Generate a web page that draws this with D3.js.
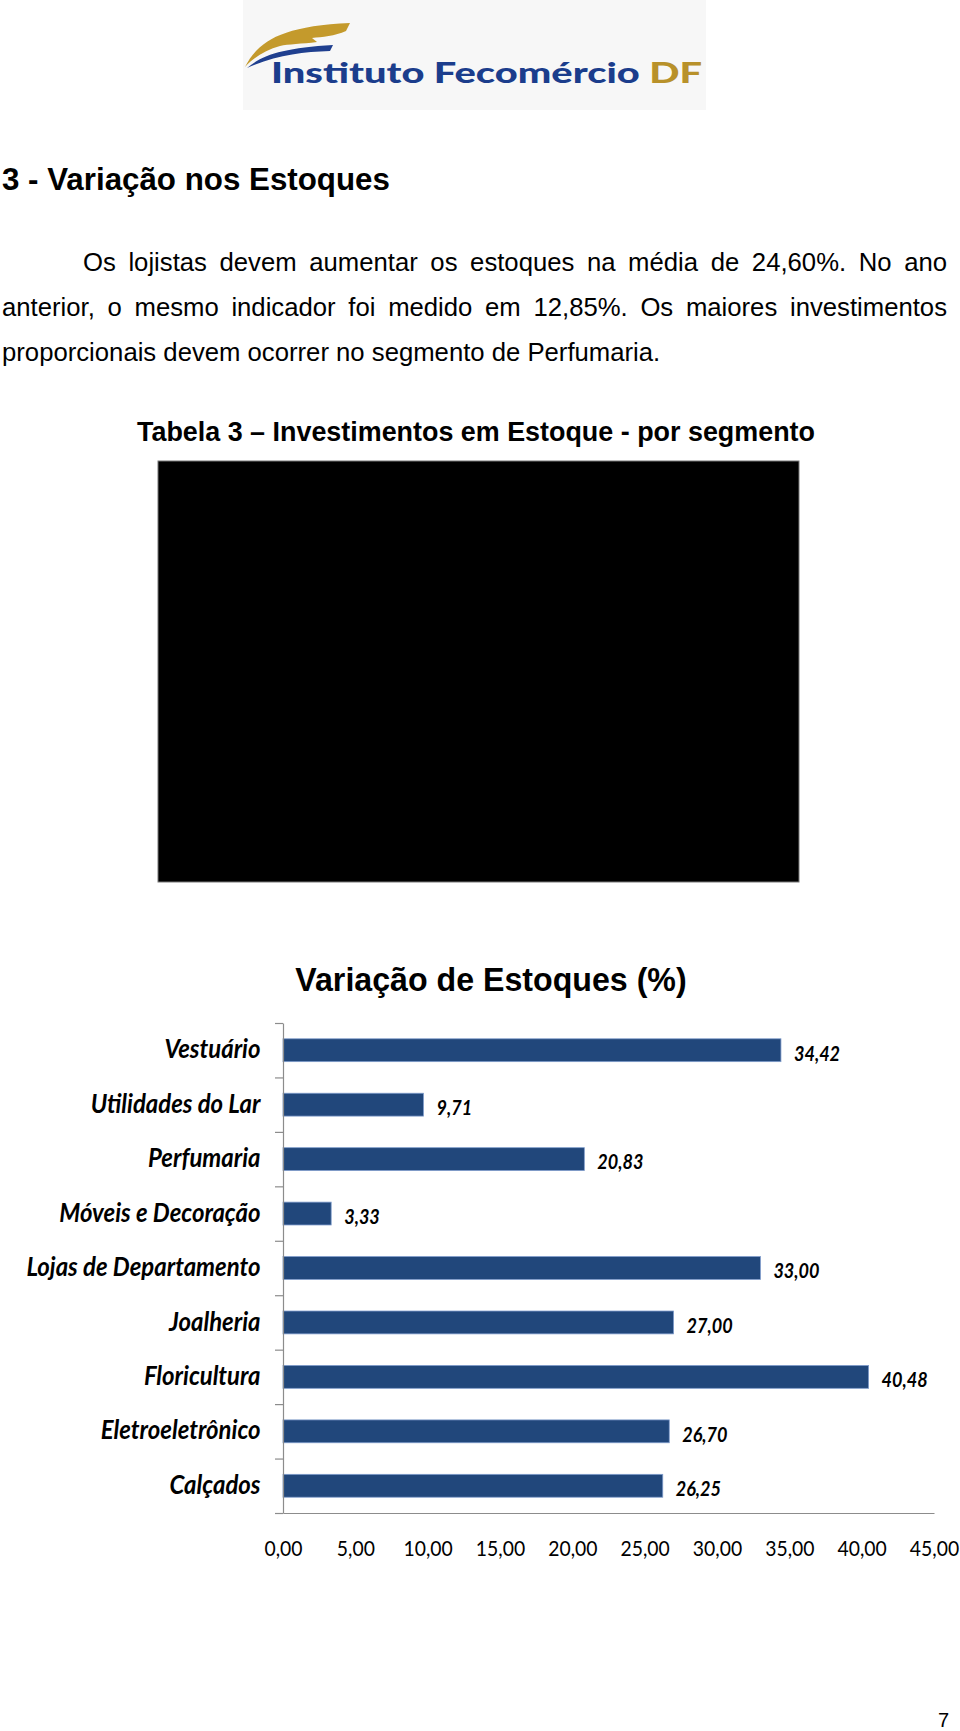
<!DOCTYPE html>
<html>
<head>
<meta charset="utf-8">
<script src="https://cdn.jsdelivr.net/npm/d3@7"></script>
<style>
  html, body { margin: 0; padding: 0; background: #ffffff; }
  svg { display: block; }
</style>
</head>
<body>
<svg id="page" width="960" height="1731"></svg>
<script>
// ---------------- data ----------------
const categories = ["Vestuário", "Utilidades do Lar", "Perfumaria", "Móveis e Decoração",
  "Lojas de Departamento", "Joalheria", "Floricultura", "Eletroeletrônico", "Calçados"];
const values = [34.42, 9.71, 20.83, 3.33, 33.00, 27.00, 40.48, 26.70, 26.25];
const xTicks = [0, 5, 10, 15, 20, 25, 30, 35, 40, 45];
const chartTitle = "Variação de Estoques (%)";
const heading = "3 - Variação nos Estoques";
const bodyLines = [
  "Os lojistas devem aumentar os estoques na média de 24,60%. No ano",
  "anterior, o mesmo indicador foi medido em 12,85%. Os maiores investimentos",
  "proporcionais devem ocorrer no segmento de Perfumaria."
];
const tableCaption = "Tabela 3 – Investimentos em Estoque - por segmento";
const logoMain = "Instituto Fecomércio";
const logoDF = "DF";
const pageNumber = "7";

// ---------------- helpers ----------------
const ptBR = d3.formatLocale({decimal: ",", thousands: ".", grouping: [3], currency: ["R$", ""]});
const fmt = ptBR.format(".2f");
const svg = d3.select("#page");
const ARIAL = "'Liberation Sans', Arial, sans-serif";
const CALI = "Lato, 'Open Sans', sans-serif";

function draw() {
  // ---------- logo ----------
  const logo = svg.append("g");
  logo.append("rect").attr("x", 243).attr("y", 0).attr("width", 463).attr("height", 110)
    .attr("fill", "#f7f7f7");
  logo.append("path")
    .attr("d", "M245,67 C258,42 280,26 350,23 L346,31 C335,36 322,37 312,38 L317,42 C302,44 288,44 280,46 C266,50 254,57 245,67 Z")
    .attr("fill", "#c49a2c");
  logo.append("path")
    .attr("d", "M247,68 C262,55 283,48 333,45 L330,51 C302,52 276,55 247,68 Z")
    .attr("fill", "#1f3f8f");
  const lt = logo.append("text").attr("x", 271).attr("y", 83)
    .attr("font-family", "Lato, sans-serif").attr("font-weight", 900).attr("font-size", 28)
    .attr("textLength", 431).attr("lengthAdjust", "spacingAndGlyphs");
  lt.append("tspan").attr("fill", "#1b3d8c").text(logoMain + " ");
  lt.append("tspan").attr("fill", "#b8912a").text(logoDF);

  // ---------- heading ----------
  svg.append("text").attr("x", 2).attr("y", 190)
    .attr("font-family", ARIAL).attr("font-weight", "bold").attr("font-size", 31.3)
    .attr("fill", "#000").text(heading);

  // ---------- justified body ----------
  const bodyG = svg.append("g").attr("font-family", ARIAL).attr("font-size", 25.7).attr("fill", "#000");
  const lineSpecs = [
    {x0: 83, x1: 947, y: 271, justify: true},
    {x0: 2, x1: 947, y: 316, justify: true},
    {x0: 2, x1: 947, y: 361, justify: false}
  ];
  bodyLines.forEach((line, li) => {
    const spec = lineSpecs[li];
    if (!spec.justify) {
      bodyG.append("text").attr("x", spec.x0).attr("y", spec.y).text(line);
      return;
    }
    const words = line.split(" ");
    const nodes = words.map(w => bodyG.append("text").attr("y", spec.y).text(w));
    const widths = nodes.map(n => n.node().getComputedTextLength());
    const gap = (spec.x1 - spec.x0 - d3.sum(widths)) / (words.length - 1);
    let x = spec.x0;
    nodes.forEach((n, i) => { n.attr("x", x); x += widths[i] + gap; });
  });

  // ---------- table caption ----------
  svg.append("text").attr("x", 476).attr("y", 441).attr("text-anchor", "middle")
    .attr("font-family", ARIAL).attr("font-weight", "bold").attr("font-size", 26.9)
    .attr("fill", "#000").text(tableCaption);

  // ---------- black table placeholder ----------
  svg.append("rect").attr("x", 158).attr("y", 461).attr("width", 641).attr("height", 421)
    .attr("fill", "#000").attr("stroke", "#777").attr("stroke-width", 1);

  // ---------- chart ----------
  svg.append("text").attr("x", 491).attr("y", 991).attr("text-anchor", "middle")
    .attr("font-family", ARIAL).attr("font-weight", "bold").attr("font-size", 33.5)
    .attr("transform", "translate(491,0) scale(0.96,1) translate(-491,0)")
    .attr("fill", "#000").text(chartTitle);

  const x = d3.scaleLinear().domain([0, 45]).range([283, 934]);
  const y = d3.scaleBand().domain(categories).range([1023, 1513]).paddingInner(0.58).paddingOuter(0.29);
  const yIdx = d3.scaleLinear().domain([0, categories.length]).range([1023, 1513]);

  // bars
  svg.append("g").selectAll("rect").data(values).join("rect")
    .attr("x", x(0))
    .attr("y", (d, i) => y(categories[i]))
    .attr("width", d => x(d) - x(0))
    .attr("height", y.bandwidth())
    .attr("fill", "#21477b")
    .attr("stroke", "#7f9ccb").attr("stroke-width", 0.8);

  // y axis with ticks at category boundaries
  const yAxisG = svg.append("g").attr("transform", `translate(${x(0)},0)`)
    .call(d3.axisLeft(yIdx).tickValues(d3.range(0, categories.length + 1)).tickFormat("").tickSize(8).tickSizeOuter(0));
  yAxisG.selectAll("path, line").attr("stroke", "#8c8c8c").attr("stroke-width", 1.2);

  // x axis
  const xAxisG = svg.append("g").attr("transform", `translate(0,${yIdx(categories.length)})`)
    .call(d3.axisBottom(x).tickValues(xTicks).tickFormat(fmt).tickSize(0).tickPadding(28).tickSizeOuter(0));
  xAxisG.select(".domain").attr("stroke", "#8c8c8c").attr("stroke-width", 1.2);
  xAxisG.selectAll("text")
    .attr("font-family", CALI).attr("font-size", 21.5).attr("fill", "#000")
    .attr("transform", "scale(0.9,1)");

  // category labels
  svg.append("g").selectAll("text").data(categories).join("text")
    .attr("transform", d => `translate(260.5,${y(d) + y.bandwidth() / 2 - 1}) scale(0.92,1)`)
    .attr("text-anchor", "end").attr("dy", "0.35em")
    .attr("font-family", CALI).attr("font-style", "italic").attr("font-weight", 700)
    .attr("font-size", 26).attr("fill", "#000")
    .text(d => d);

  // value labels
  svg.append("g").selectAll("text").data(values).join("text")
    .attr("transform", (d, i) => `translate(${x(d) + 13},${y(categories[i]) + y.bandwidth() / 2 + 3}) scale(0.86,1)`)
    .attr("dy", "0.35em")
    .attr("font-family", CALI).attr("font-style", "italic").attr("font-weight", 700)
    .attr("font-size", 21).attr("fill", "#000")
    .text(d => fmt(d));

  // ---------- page number ----------
  svg.append("text").attr("x", 949).attr("y", 1727).attr("text-anchor", "end")
    .attr("font-family", ARIAL).attr("font-size", 20).attr("fill", "#000").text(pageNumber);
}

if (document.fonts && document.fonts.ready) {
  document.fonts.ready.then(draw);
} else {
  draw();
}
</script>
</body>
</html>
